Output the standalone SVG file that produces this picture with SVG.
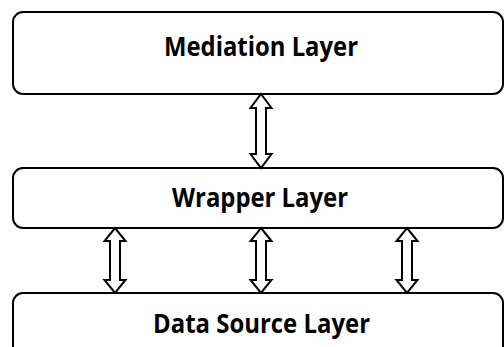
<svg xmlns="http://www.w3.org/2000/svg" width="504" height="347" viewBox="0 0 504 347">
<style>
.box{fill:#fff;stroke:#000;stroke-width:2}
.lbl{font-family:"Open Sans","Liberation Sans",sans-serif;font-weight:bold;font-size:26px;fill:#000;text-anchor:middle}
.arr{fill:#fff;stroke:#000;stroke-width:2;stroke-linejoin:miter}
</style>
<rect width="504" height="347" fill="#fff"/>
<g id="mediation">
<rect class="box" x="13" y="12" width="490" height="82" rx="10"/>
<text class="lbl" x="261" y="55.5" textLength="194" lengthAdjust="spacingAndGlyphs">Mediation Layer</text>
</g>
<g id="wrapper">
<rect class="box" x="13" y="168" width="490" height="60" rx="10"/>
<text class="lbl" x="260" y="206.5" textLength="176" lengthAdjust="spacingAndGlyphs">Wrapper Layer</text>
</g>
<g id="datasource">
<rect class="box" x="13" y="293" width="490" height="80" rx="10"/>
<text class="lbl" x="261.5" y="333" textLength="217" lengthAdjust="spacingAndGlyphs">Data Source Layer</text>
</g>
<g id="connectors">
<polygon class="arr" points="261,94 271.5,108 266,108 266,154 271.5,154 261,168 250.5,154 256,154 256,108 250.5,108"/>
<polygon class="arr" points="115,228 125.5,241 120,241 120,280 125.5,280 115,293 104.5,280 110,280 110,241 104.5,241"/>
<polygon class="arr" points="261,228 271.5,241 266,241 266,280 271.5,280 261,293 250.5,280 256,280 256,241 250.5,241"/>
<polygon class="arr" points="407,228 417.5,241 412,241 412,280 417.5,280 407,293 396.5,280 402,280 402,241 396.5,241"/>
</g>
</svg>
